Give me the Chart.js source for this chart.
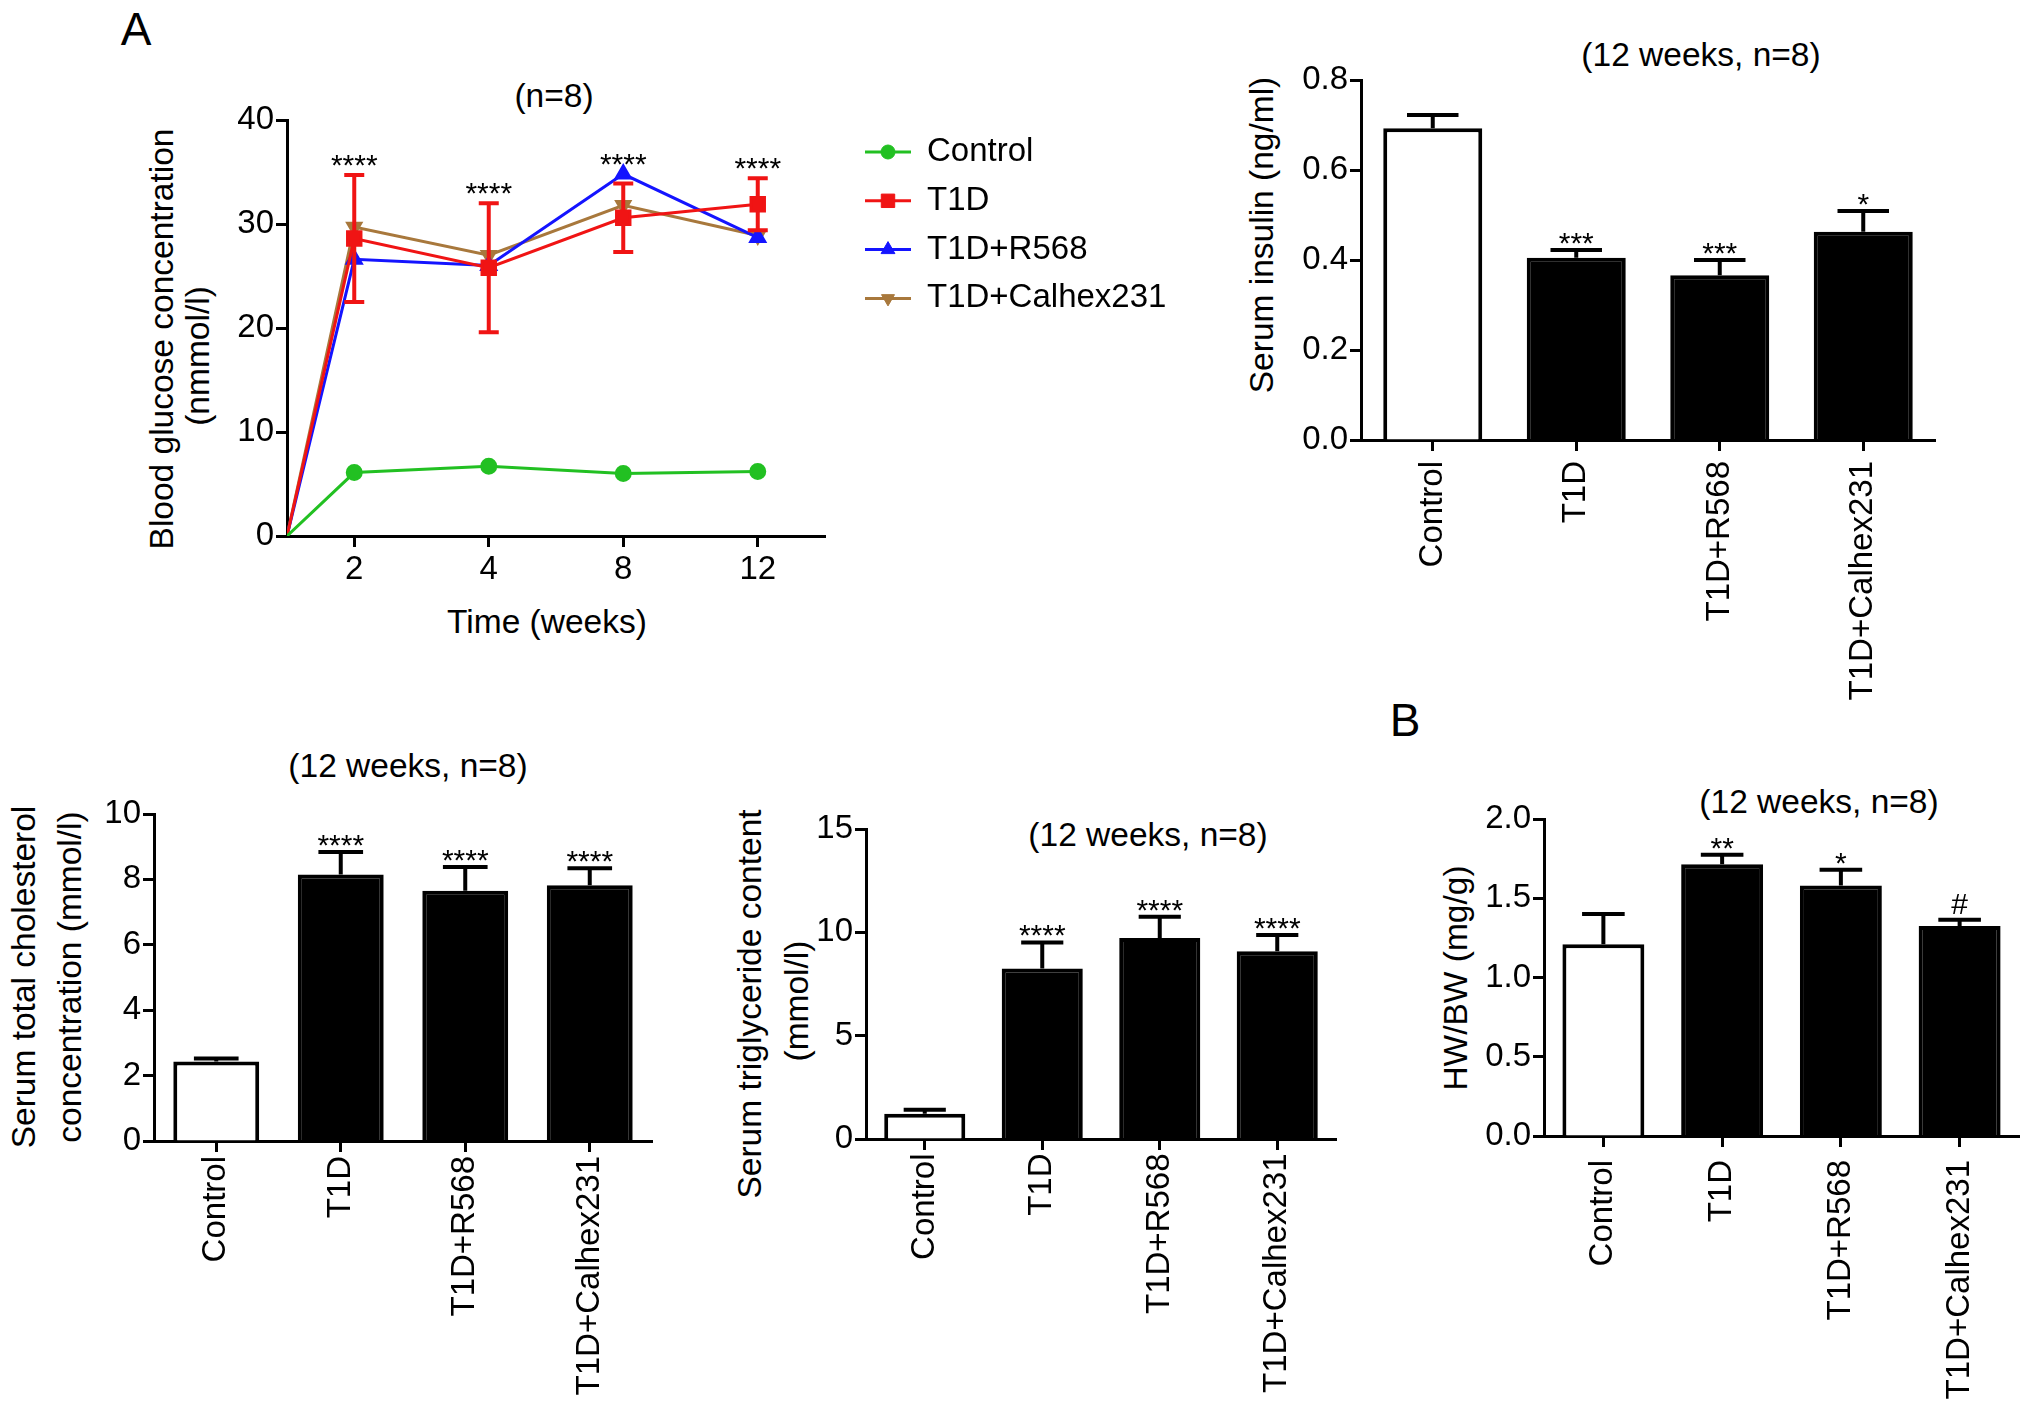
<!DOCTYPE html>
<html><head><meta charset="utf-8">
<script src="https://cdn.jsdelivr.net/npm/chart.js@4.4.1/dist/chart.umd.min.js"></script>
<style>
html,body{margin:0;padding:0;background:#fff;}
body{width:2032px;height:1420px;position:relative;overflow:hidden;font-family:"Liberation Sans",Arial,sans-serif;color:#000;}
canvas{position:absolute;}
.t{position:absolute;white-space:nowrap;line-height:1;transform:translate(-50%,-50%);font-size:33.5px;}
.r{transform:translate(-50%,-50%) rotate(-90deg);}
.big{font-size:46px;}
</style></head><body>
<div class="t big" style="left:136px;top:29px">A</div>
<div class="t big" style="left:1405px;top:720px">B</div>
<div class="t" style="left:554px;top:96px">(n=8)</div>
<div class="t" style="left:1701px;top:55px">(12 weeks, n=8)</div>
<div class="t" style="left:408px;top:766px">(12 weeks, n=8)</div>
<div class="t" style="left:1148px;top:835px">(12 weeks, n=8)</div>
<div class="t" style="left:1819px;top:802px">(12 weeks, n=8)</div>
<div class="t" style="left:547px;top:622px">Time (weeks)</div>
<div class="t r" style="left:162px;top:339px">Blood glucose concentration</div>
<div class="t r" style="left:198px;top:356px">(nmmol/l)</div>
<div class="t r" style="left:1262px;top:235px">Serum insulin (ng/ml)</div>
<div class="t r" style="left:24px;top:977px">Serum total cholesterol</div>
<div class="t r" style="left:70px;top:977px">concentration (mmol/l)</div>
<div class="t r" style="left:750px;top:1004px">Serum triglyceride content</div>
<div class="t r" style="left:797px;top:1001px">(mmol/l)</div>
<div class="t r" style="left:1456px;top:978px">HW/BW (mg/g)</div>
<script>
// ---------- data ----------
const groups = ['Control', 'T1D', 'T1D+R568', 'T1D+Calhex231'];
const weekTicks = ['2', '4', '8', '12'];
const glucoseWeeks = [0, 2, 4, 8, 12];
const glucoseControl = [0, 6.1, 6.7, 6.0, 6.2];
const glucoseT1D = [0, 28.6, 25.8, 30.6, 31.9];
const glucoseT1DErr = [0, 6.1, 6.2, 3.3, 2.5];
const glucoseR568 = [0, 26.6, 26.0, 34.8, 28.7];
const glucoseCalhex = [0, 29.7, 27.0, 31.8, 28.9];
const glucoseStars = ['', '****', '****', '****', '****'];

const insulinMean = [0.693, 0.405, 0.366, 0.463];
const insulinSEM = [0.029, 0.017, 0.034, 0.046];
const insulinStars = ['', '***', '***', '*'];

const cholMean = [2.43, 8.15, 7.65, 7.82];
const cholSEM = [0.09, 0.69, 0.73, 0.52];
const cholStars = ['', '****', '****', '****'];

const trigMean = [1.22, 8.25, 9.73, 9.08];
const trigSEM = [0.20, 1.26, 1.03, 0.79];
const trigStars = ['', '****', '****', '****'];

const hwbwMean = [1.21, 1.715, 1.58, 1.325];
const hwbwSEM = [0.19, 0.06, 0.10, 0.04];
const hwbwStars = ['', '**', '*', '#'];

// ---------- setup ----------
const FONT = '"Liberation Sans", Arial, sans-serif';
Chart.defaults.font.family = FONT;
Chart.defaults.color = '#000';

const errBars = {
  id: 'errBars',
  afterDatasetsDraw(chart) {
    const ctx = chart.ctx, ys = chart.scales.y;
    chart.data.datasets.forEach((ds, di) => {
      if (!ds.errors) return;
      const meta = chart.getDatasetMeta(di);
      meta.data.forEach((el, i) => {
        const e = ds.errors[i];
        if (!e) return;
        const raw = ds.data[i];
        const v = typeof raw === 'object' ? raw.y : raw;
        const top = ys.getPixelForValue(v + e);
        const bottom = ds.errorBoth ? ys.getPixelForValue(v - e) : el.y;
        const half = ds.capWidth ? ds.capWidth / 2 : el.width * ds.capRatio / 2;
        ctx.save();
        ctx.strokeStyle = ds.errorColor;
        ctx.lineWidth = ds.errorWidth;
        ctx.beginPath();
        ctx.moveTo(el.x, bottom); ctx.lineTo(el.x, top);
        ctx.moveTo(el.x - half, top); ctx.lineTo(el.x + half, top);
        if (ds.errorBoth) { ctx.moveTo(el.x - half, bottom); ctx.lineTo(el.x + half, bottom); }
        ctx.stroke();
        ctx.restore();
      });
    });
  }
};

const sig = {
  id: 'sig',
  afterDatasetsDraw(chart, args, opts) {
    if (!opts.labels) return;
    const ctx = chart.ctx, ys = chart.scales.y;
    const meta0 = chart.getDatasetMeta(0);
    ctx.save();
    ctx.fillStyle = '#000';
    ctx.font = opts.size + 'px ' + FONT;
    ctx.textAlign = 'center';
    ctx.textBaseline = 'alphabetic';
    opts.labels.forEach((lab, i) => {
      if (!lab) return;
      let topPx = Infinity;
      chart.data.datasets.forEach(ds => {
        const raw = ds.data[i];
        const v = typeof raw === 'object' ? raw.y : raw;
        const e = ds.errors ? ds.errors[i] : 0;
        topPx = Math.min(topPx, ys.getPixelForValue(v + e));
      });
      const m = ctx.measureText(lab);
      const glyphBottom = topPx - opts.gap;
      const base = glyphBottom - m.actualBoundingBoxDescent;
      ctx.fillText(lab, meta0.data[i].x, base);
    });
    ctx.restore();
  }
};

const sideLegend = {
  id: 'sideLegend',
  afterDraw(chart, args, opts) {
    if (!opts.display) return;
    const ctx = chart.ctx, a = chart.chartArea;
    const x0 = a.right + opts.dx, y0 = a.top + opts.dy;
    chart.data.datasets.forEach((ds, i) => {
      const y = y0 + i * opts.rowH;
      ctx.save();
      ctx.strokeStyle = ds.borderColor;
      ctx.lineWidth = ds.borderWidth;
      ctx.beginPath(); ctx.moveTo(x0, y); ctx.lineTo(x0 + opts.lineLen, y); ctx.stroke();
      ctx.fillStyle = ds.borderColor;
      ctx.lineWidth = 1;
      Chart.helpers.drawPoint(ctx, {pointStyle: ds.pointStyle, radius: ds.legendRadius, rotation: ds.pointRotation || 0, borderWidth: 1}, x0 + opts.lineLen / 2, y);
      ctx.fillStyle = '#000';
      ctx.font = opts.size + 'px ' + FONT;
      ctx.textBaseline = 'middle';
      ctx.textAlign = 'left';
      ctx.fillText(ds.label, x0 + opts.textDx, y);
      ctx.restore();
    });
  }
};

function makeCanvas(id, left, top, w, h) {
  const c = document.createElement('canvas');
  c.id = id; c.width = w; c.height = h;
  c.style.left = left + 'px'; c.style.top = top + 'px';
  c.style.width = w + 'px'; c.style.height = h + 'px';
  document.body.appendChild(c);
  return c;
}

const axisGrid = {display: true, drawOnChartArea: false, drawTicks: true, tickLength: 11, tickWidth: 3, tickColor: '#000', offset: false};
const axisBorder = {display: true, color: '#000', width: 3};

function barChart(id, box, pad, yW, xH, xPad, yMax, yStep, dec, mean, sem, stars) {
  const c = makeCanvas(id, box[0], box[1], box[2], box[3]);
  return new Chart(c, {
    type: 'bar',
    data: {
      labels: groups,
      datasets: [{
        data: mean,
        errors: sem,
        errorColor: '#000', errorWidth: 4, capRatio: 0.52,
        backgroundColor: ['#ffffff', '#000000', '#000000', '#000000'],
        borderColor: '#000', borderWidth: 4,
        barPercentage: 0.69, categoryPercentage: 1
      }]
    },
    options: {
      responsive: false, animation: false, devicePixelRatio: 1,
      layout: {padding: pad},
      plugins: {legend: {display: false}, tooltip: {enabled: false}, sig: {labels: stars, size: 30, gap: 6}},
      scales: {
        x: {
          type: 'category', offset: true, grid: axisGrid, border: axisBorder,
          ticks: {color: '#000', font: {size: 33}, minRotation: 90, maxRotation: 90, autoSkip: false, padding: xPad},
          afterFit: s => { s.height = xH; }
        },
        y: {
          min: 0, max: yMax, grid: axisGrid, border: axisBorder,
          ticks: {stepSize: yStep, color: '#000', font: {size: 33}, padding: 2, callback: v => Number(v).toFixed(dec)},
          afterFit: s => { s.width = yW; }
        }
      }
    },
    plugins: [errBars, sig]
  });
}

// ---------- line chart (blood glucose) ----------
const X_MIN = 0.5;
const toPts = arr => glucoseWeeks.map((w, i) => ({x: i === 0 ? X_MIN : i, y: arr[i]}));
const radii = r => glucoseWeeks.map((w, i) => i === 0 ? 0 : r);
const c1 = makeCanvas('c1', 150, 60, 1100, 600);
new Chart(c1, {
  type: 'line',
  data: {
    datasets: [
      {label: 'Control', data: toPts(glucoseControl), borderColor: '#22c022', backgroundColor: '#22c022', borderWidth: 3, pointStyle: 'circle', pointRadius: radii(7), legendRadius: 7, tension: 0},
      {label: 'T1D', data: toPts(glucoseT1D), errors: glucoseT1DErr, errorBoth: true, errorColor: '#f01414', errorWidth: 4, capWidth: 20, borderColor: '#f01414', backgroundColor: '#f01414', borderWidth: 3, pointStyle: 'rect', pointRadius: radii(9.5), legendRadius: 9.5, tension: 0},
      {label: 'T1D+R568', data: toPts(glucoseR568), borderColor: '#1414ff', backgroundColor: '#1414ff', borderWidth: 3, pointStyle: 'triangle', pointRadius: radii(8), legendRadius: 8, tension: 0},
      {label: 'T1D+Calhex231', data: toPts(glucoseCalhex), borderColor: '#a8783c', backgroundColor: '#a8783c', borderWidth: 3, pointStyle: 'triangle', pointRotation: 180, rotation: 180, pointRadius: radii(7.5), legendRadius: 7.5, tension: 0}
    ]
  },
  options: {
    responsive: false, animation: false, devicePixelRatio: 1,
    layout: {padding: {top: 60, right: 425, left: 0, bottom: 0}},
    plugins: {
      legend: {display: false}, tooltip: {enabled: false},
      sig: {labels: glucoseStars, size: 30, gap: 9},
      sideLegend: {display: true, dx: 40, dy: 32, rowH: 48.8, lineLen: 46, textDx: 62, size: 33}
    },
    scales: {
      x: {
        type: 'linear', min: X_MIN, max: 4.5, grid: axisGrid, border: axisBorder,
        afterBuildTicks: s => { s.ticks = weekTicks.map((t, i) => ({value: i + 1})); },
        ticks: {color: '#000', font: {size: 33}, padding: 3, maxRotation: 0, callback: (v, i) => weekTicks[i]},
        afterFit: s => { s.height = 124; }
      },
      y: {
        min: 0, max: 40, grid: axisGrid, border: axisBorder,
        ticks: {stepSize: 10, color: '#000', font: {size: 33}, padding: 2},
        afterFit: s => { s.width = 137; }
      }
    }
  },
  plugins: [errBars, sig, sideLegend]
});

// ---------- bar charts ----------
barChart('c2', [1290, 30, 700, 770], {top: 50, right: 55, left: 0, bottom: 0}, 71, 360, 10, 0.8, 0.2, 1, insulinMean, insulinSEM, insulinStars);
barChart('c3', [90, 770, 600, 650], {top: 44, right: 38, left: 0, bottom: 0}, 64, 279, 4, 10, 2, 0, cholMean, cholSEM, cholStars);
barChart('c4', [800, 780, 580, 640], {top: 49, right: 44, left: 0, bottom: 0}, 66, 281, 3.5, 15, 5, 0, trigMean, trigSEM, trigStars);
barChart('c5', [1480, 770, 552, 650], {top: 49, right: 13, left: 0, bottom: 0}, 64, 284, 13, 2, 0.5, 1, hwbwMean, hwbwSEM, hwbwStars);
</script>
</body></html>
